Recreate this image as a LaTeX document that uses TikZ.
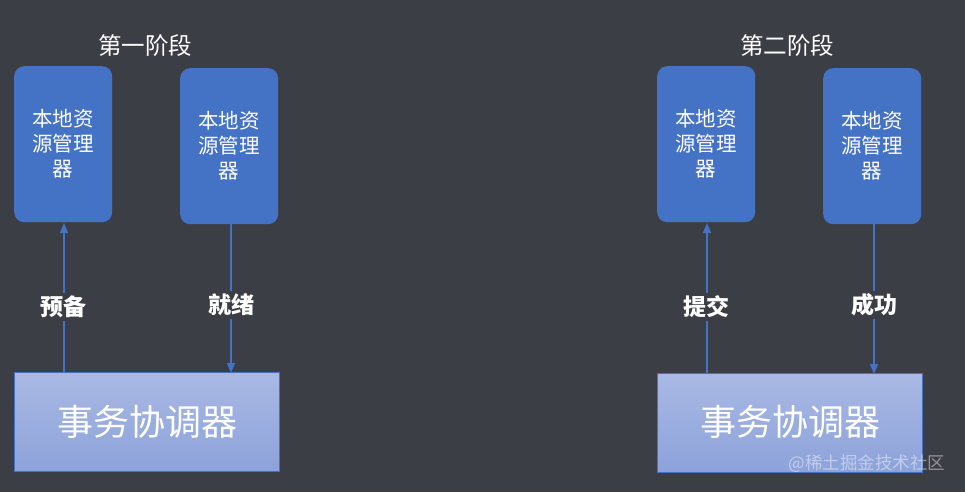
\documentclass[tikz,border=0pt]{standalone}
\usepackage{fontspec}
\setmainfont{Noto Sans CJK SC}
\usetikzlibrary{arrows.meta}
\definecolor{bgc}{HTML}{3C3E46}
\definecolor{rmblue}{HTML}{4472C4}
\definecolor{gtop}{HTML}{AAB9E4}
\definecolor{gbot}{HTML}{8CA2DA}
\begin{document}
\begin{tikzpicture}[x=1pt,y=-1pt,
  rm/.style={draw=none,fill=rmblue,rounded corners=10pt,minimum width=98pt,minimum height=156pt,anchor=north west,inner sep=0pt,text=white,font=\fontsize{20.5}{25}\selectfont,align=center},
  coord/.style={draw=rmblue,line width=1pt,top color=gtop,bottom color=gbot,minimum width=265pt,minimum height=99pt,anchor=north west,inner sep=0pt},
  ctext/.style={text=white,font=\fontsize{36}{40}\selectfont,inner sep=0pt},
  ttl/.style={text=white,font=\fontsize{23.5}{26}\selectfont,inner sep=0pt},
  lbl/.style={text=white,font=\fontsize{23}{26}\selectfont\bfseries,inner sep=3pt,fill=bgc},
  conn/.style={draw=rmblue,line width=1.4pt,arrows={-Triangle[length=10pt,width=8pt]}}]
\fill[bgc] (0,0) rectangle (965,492);
% phase 1
\node[ttl] (t1) at (145,46) {第一阶段};
\node[rm] (a1) at (14,66) {本地资\\源管理\\器};
\node[rm] (a2) at (180,68) {本地资\\源管理\\器};
\node[coord] (c1) at (14,372) {};
\node[ctext] (c1t) at (147,422) {事务协调器};
\coordinate (p1b) at (64,372);
\coordinate (p1t) at (64,223);
\coordinate (p2t) at (231,224);
\coordinate (p2b) at (231,373);
\draw[conn] (p1b) -- (p1t);
\draw[conn] (p2t) -- (p2b);
\node[lbl] (l1) at (63,307) {预备};
\node[lbl] (l2) at (231,305) {就绪};
% phase 2
\node[ttl] (t2) at (787,46) {第二阶段};
\node[rm] (b1) at (657,66) {本地资\\源管理\\器};
\node[rm] (b2) at (823,68) {本地资\\源管理\\器};
\node[coord] (c2) at (657,373) {};
\node[ctext] (c2t) at (790,422) {事务协调器};
\coordinate (q1b) at (707,373);
\coordinate (q1t) at (707,223);
\coordinate (q2t) at (874,224);
\coordinate (q2b) at (874,374);
\draw[conn] (q1b) -- (q1t);
\draw[conn] (q2t) -- (q2b);
\node[lbl] (l3) at (706,307) {提交};
\node[lbl] (l4) at (874,305) {成功};
% watermark
\node[text=white,opacity=0.45,font=\fontsize{17.5}{20}\selectfont,inner sep=0pt] (wm) at (867,464) {@稀土掘金技术社区};
\end{tikzpicture}
\end{document}
